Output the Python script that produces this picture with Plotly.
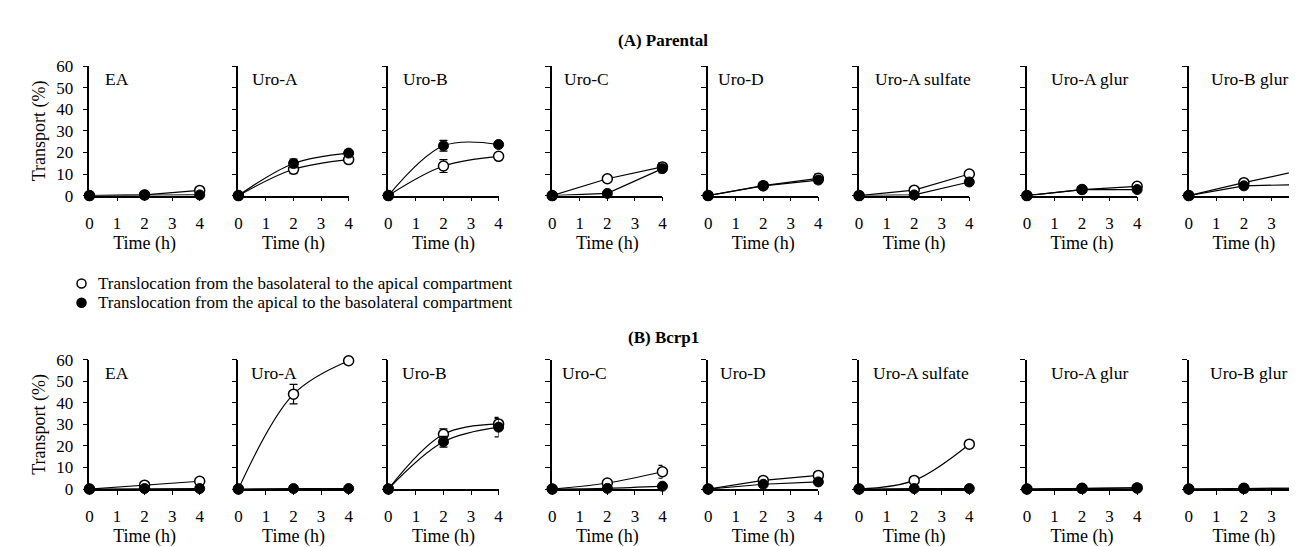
import plotly.graph_objects as go

# ---------------- data ----------------
time_h = [0, 2, 4]
compounds = ["EA", "Uro-A", "Uro-B", "Uro-C", "Uro-D", "Uro-A sulfate", "Uro-A glur", "Uro-B glur"]

# (A) Parental: basolateral->apical (open) and apical->basolateral (filled)
parental_open = [
    [0, 0.3, 2.4], [0, 12.2, 16.7], [0, 13.7, 18.2], [0, 7.8, 13.3],
    [0, 4.6, 8.0], [0, 2.5, 10.0], [0, 2.8, 4.3], [0, 6.0, 11.5],
]
parental_open_err = [
    [0, 0, 0.5], [0, 2, 1.5], [0, 3, 1.5], [0, 1.5, 2],
    [0, 1, 2], [0, 0.5, 1.5], [0, 0.5, 1], [0, 0.5, 1],
]
parental_filled = [
    [0, 0.3, 0.3], [0, 14.9, 19.7], [0, 23.1, 23.7], [0, 1.0, 12.5],
    [0, 4.5, 7.2], [0, 0.3, 6.3], [0, 2.8, 2.8], [0, 4.5, 5.1],
]
parental_filled_err = [
    [0, 0, 0], [0, 2, 1.5], [0, 2.5, 1], [0, 0.5, 2],
    [0, 1, 1.5], [0, 0.5, 1.5], [0, 0.5, 1], [0, 1, 1],
]

# (B) Bcrp1
bcrp1_open = [
    [0, 1.8, 3.6], [0, 44.0, 59.5], [0, 25.4, 30.2], [0, 2.8, 8.0],
    [0, 4.0, 6.3], [0, 4.0, 20.8], [0, 0.3, 0.5], [0, 0.3, 0.4],
]
bcrp1_open_err = [
    [0, 0.5, 0.5], [0, 4.5, 1.5], [0, 2.5, 2.5], [0, 0.5, 3],
    [0, 0.5, 0.8], [0, 0.5, 0.8], [0, 0, 0], [0, 0, 0],
]
bcrp1_filled = [
    [0, 0.2, 0.2], [0, 0.2, 0.2], [0, 21.9, 28.7], [0, 0.3, 1.3],
    [0, 2.2, 3.3], [0, 0.2, 0.2], [0, 0.3, 0.5], [0, 0.3, 0.4],
]
bcrp1_filled_err = [
    [0, 0, 0], [0, 0, 0], [0, 2.5, 4.5], [0, 0.3, 0.5],
    [0, 0.5, 0.5], [0, 0, 0], [0, 0, 0], [0, 0, 0],
]

x_ticks = [0, 1, 2, 3, 4]
y_ticks = [0, 10, 20, 30, 40, 50, 60]

# ---------------- style / layout ----------------
W, H = 1297, 547
FONT = "Liberation Serif, Times New Roman, serif"
panel_x0 = [78, 228, 379, 544, 701, 853, 1022, 1185]
panel_w = 111
rows = [
    dict(top=51, bottom=185, title="<b>(A) Parental</b>", title_y=24,
         opn=parental_open, opn_e=parental_open_err,
         fil=parental_filled, fil_e=parental_filled_err,
         shapes=["linear", "spline", "spline", "linear", "linear", "linear", "linear", "linear"],
         lab_dx=[15, 13, 14, 11, 9, 15, 23, 21], lab_dy=13),
    dict(top=355, bottom=489, title="<b>(B) Bcrp1</b>", title_y=332,
         opn=bcrp1_open, opn_e=bcrp1_open_err,
         fil=bcrp1_filled, fil_e=bcrp1_filled_err,
         shapes=["linear", "spline", "spline", "spline", "linear", "spline", "linear", "linear"],
         lab_dx=[15, 12, 13, 9, 11, 13, 23, 20], lab_dy=14),
]

fig = go.Figure()
annotations = []
layout = {}
idx = 0
for r, row in enumerate(rows):
    for c, name in enumerate(compounds):
        idx += 1
        xa = "x" if idx == 1 else f"x{idx}"
        ya = "y" if idx == 1 else f"y{idx}"
        xkey = "xaxis" if idx == 1 else f"xaxis{idx}"
        ykey = "yaxis" if idx == 1 else f"yaxis{idx}"
        x0 = panel_x0[c]
        layout[xkey] = dict(
            domain=[x0 / W, min((x0 + panel_w) / W, 1.0)], anchor=ya,
            range=[0, 4], tickvals=x_ticks, ticks="outside", ticklen=4,
            tickwidth=1.2, tickcolor="black", showline=True, linecolor="black",
            linewidth=1.5, showgrid=False, zeroline=False,
            tickfont=dict(family=FONT, size=17, color="black"),
            ticklabelstandoff=7,
            title=dict(text="Time (h)", font=dict(family=FONT, size=18, color="black"), standoff=3),
        )
        layout[ykey] = dict(
            domain=[1 - row["bottom"] / H, 1 - row["top"] / H], anchor=xa,
            range=[0, 60], tickvals=y_ticks, ticks="outside", ticklen=5,
            tickwidth=1.2, tickcolor="black", showline=True, linecolor="black",
            linewidth=1.5, showgrid=False, zeroline=False,
            showticklabels=(c == 0),
            tickfont=dict(family=FONT, size=17, color="black"),
            ticklabelstandoff=6,
        )
        if c == 0:
            layout[ykey]["title"] = dict(text="Transport (%)",
                                         font=dict(family=FONT, size=18, color="black"),
                                         standoff=6)
        shape = row["shapes"][c]
        # open circles
        fig.add_trace(go.Scatter(
            x=time_h, y=row["opn"][c], xaxis=xa, yaxis=ya, mode="lines+markers",
            line=dict(color="black", width=1.2, shape=shape, smoothing=1),
            marker=dict(symbol="circle", size=10, color="white",
                        line=dict(color="black", width=1.5)),
            error_y=dict(type="data", array=row["opn_e"][c], color="black",
                         thickness=1.2, width=4),
            cliponaxis=False, showlegend=False))
        # filled circles
        fig.add_trace(go.Scatter(
            x=time_h, y=row["fil"][c], xaxis=xa, yaxis=ya, mode="lines+markers",
            line=dict(color="black", width=1.2, shape=shape, smoothing=1),
            marker=dict(symbol="circle", size=10, color="black",
                        line=dict(color="black", width=1)),
            error_y=dict(type="data", array=row["fil_e"][c], color="black",
                         thickness=1.2, width=4),
            cliponaxis=False, showlegend=False))
        annotations.append(dict(
            text=name, xref=f"{xa} domain", yref=f"{ya} domain",
            x=row["lab_dx"][c] / panel_w, y=1 - row["lab_dy"] / 134,
            xanchor="left", yanchor="middle", showarrow=False, borderpad=0,
            font=dict(family=FONT, size=17.5, color="black")))
    annotations.append(dict(
        text=row["title"], xref="paper", yref="paper", x=656 / W,
        y=1 - row["title_y"] / H, xanchor="center", yanchor="middle",
        showarrow=False, font=dict(family=FONT, size=17, color="black")))

legend_labels = ["Translocation from the basolateral to the apical compartment",
                 "Translocation from the apical to the basolateral compartment"]
legend_fill = ["white", "black"]
legend_y = [276, 296]
shapes = []
for lab, fillc, ly in zip(legend_labels, legend_fill, legend_y):
    shapes.append(dict(type="circle", xref="paper", yref="paper",
                       xsizemode="pixel", ysizemode="pixel",
                       xanchor=70 / W, yanchor=1 - ly / H,
                       x0=-4.5, x1=4.5, y0=-4.5, y1=4.5,
                       line=dict(color="black", width=1.5), fillcolor=fillc))
    annotations.append(dict(text=lab, xref="paper", yref="paper", x=86 / W,
                            y=1 - ly / H, xanchor="left", yanchor="middle",
                            showarrow=False, borderpad=0,
                            font=dict(family=FONT, size=17, color="black")))

fig.update_layout(
    width=W, height=H, margin=dict(l=0, r=0, t=0, b=0),
    paper_bgcolor="white", plot_bgcolor="white",
    annotations=annotations, shapes=shapes, showlegend=False,
    font=dict(family=FONT, color="black"),
    **layout,
)
fig.write_html("out.html")
